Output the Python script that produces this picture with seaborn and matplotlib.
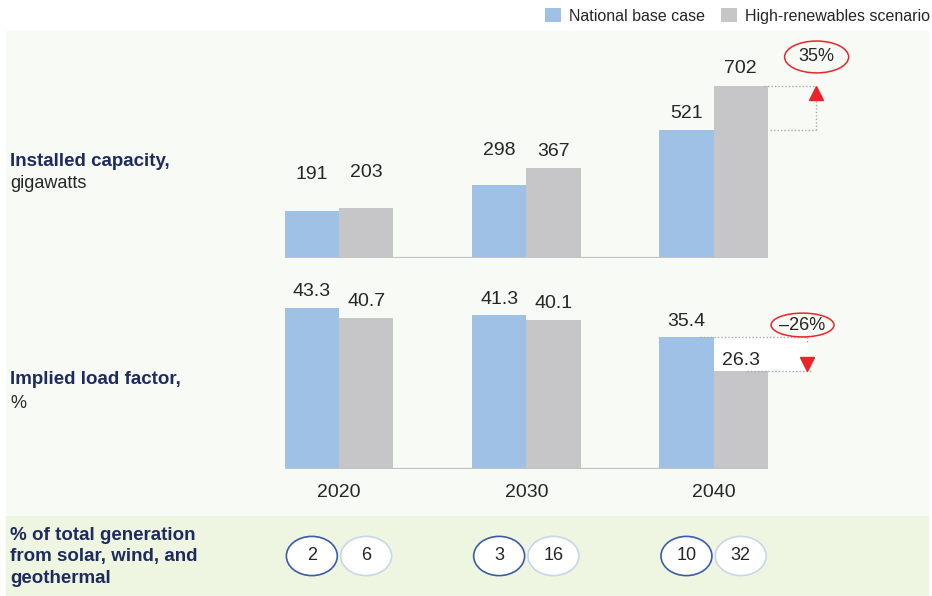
"""
plot.py - Capacidad instalada y factor de carga, caso base vs alto renovable.
"""
import numpy as np
import pandas as pd
import matplotlib
matplotlib.use("Agg")
import matplotlib.pyplot as plt
from matplotlib import transforms
from matplotlib.patches import Ellipse, Rectangle
import seaborn as sns

years = ["2020", "2030", "2040"]
scenarios = ["National base case", "High-renewables scenario"]
capacity_base = [191, 298, 521]
capacity_high = [203, 367, 702]
load_base = [43.3, 41.3, 35.4]
load_high = [40.7, 40.1, 26.3]
share_base = [2, 3, 10]
share_high = [6, 16, 32]
capacity_change = "35%"
load_change = "\u201326%"

BLUE = "#a0c1e6"
GREY = "#c6c6c8"
NAVY = "#1f2b5e"
TEXT = "#262626"
PANEL = "#f8faf5"
BAND = "#eef5e1"
RED = "#e8262a"

sns.set_style("white")
plt.rcParams["font.family"] = ["Liberation Sans", "DejaVu Sans"]

W, H = 932, 596
PX_UNIT = 187.3           # pixeles por categoria
GROUP0 = 339              # centro del grupo 2020 en pixeles


def fig_box(left, top, right, bottom):
    return [left / W, 1 - bottom / H, (right - left) / W, (bottom - top) / H]


def long_df(base, high):
    return pd.DataFrame({
        "year": years * 2,
        "scenario": [scenarios[0]] * 3 + [scenarios[1]] * 3,
        "value": list(base) + list(high),
    })


fig = plt.figure(figsize=(W / 100, H / 100), dpi=100)
fig.patch.set_facecolor("white")
fig.patches.append(Rectangle((6 / W, 1 - 516 / H), 922 / W, 485 / H,
                             transform=fig.transFigure, color=PANEL, zorder=-2))
fig.patches.append(Rectangle((6 / W, 0), 922 / W, 80 / H,
                             transform=fig.transFigure, color=BAND, zorder=-2))

x_left = GROUP0 - 0.5 * PX_UNIT
x_right = x_left + 3.5 * PX_UNIT
ax_top = fig.add_axes(fig_box(x_left, 30, x_right, 258))
ax_bot = fig.add_axes(fig_box(x_left, 280, x_right, 469))
ax_band = fig.add_axes(fig_box(x_left, 516, x_right, 596))

palette = {scenarios[0]: BLUE, scenarios[1]: GREY}

for ax, base, high in [(ax_top, capacity_base, capacity_high),
                       (ax_bot, load_base, load_high)]:
    sns.barplot(data=long_df(base, high), x="year", y="value", hue="scenario",
                hue_order=scenarios, order=years, palette=palette, width=0.58,
                saturation=1, linewidth=0, ax=ax, zorder=2)
    ax.set_facecolor("none")
    ax.set_xlim(-0.5, 3.0)
    sns.despine(ax=ax, left=True, bottom=True)
    ax.set_yticks([])
    ax.set_ylabel("")
    ax.set_xlabel("")
    ax.hlines(0, -0.29, 2.29, color="#c2c2c2", lw=1.6, zorder=3)

ax_top.set_ylim(0, 930)
ax_bot.set_ylim(0, 50.8)
ax_top.set_xticks([])
ax_bot.tick_params(axis="x", length=0, pad=11, labelsize=14, labelcolor=TEXT)

# etiquetas de valores
pads_top = [[37, 34, 17], [36, 17, 17]]
pads_bot = [[16, 16, 16], [16, 16, 11]]
for ax, pads, fmt in [(ax_top, pads_top, "{:.0f}"), (ax_bot, pads_bot, "{:.1f}")]:
    for cont, pad_row in zip(ax.containers, pads):
        for bar, pad in zip(cont, pad_row):
            x = bar.get_x() + bar.get_width() / 2
            y = bar.get_height()
            ax.annotate(fmt.format(y), (x, y), xytext=(0, pad),
                        textcoords="offset pixels", ha="center", va="center",
                        fontsize=14, color=TEXT, zorder=5)

# leyenda
sns.move_legend(ax_top, "upper right", bbox_to_anchor=(938 / W, 1.0),
                bbox_transform=fig.transFigure, ncol=2, frameon=False,
                title=None, fontsize=11.5, handlelength=1.0, handleheight=1.0,
                handletextpad=0.5, columnspacing=1.0, borderaxespad=0.1)
for t in ax_top.get_legend().get_texts():
    t.set_color(TEXT)
ax_bot.get_legend().remove()

# anotacion 35%
dots = dict(color="#a8a8a8", lw=1, ls=(0, (1, 1.5)), zorder=4, clip_on=False)
xa = 2.545
ax_top.plot([2.27, xa], [capacity_high[2]] * 2, **dots)
ax_top.plot([xa, xa], [capacity_base[2], capacity_high[2] - 55], **dots)
ax_top.plot([2.30, xa], [capacity_base[2]] * 2, **dots)
tr = transforms.offset_copy(ax_top.transData, fig=fig, y=-7, units="dots")
ax_top.plot(xa, capacity_high[2], marker="^", ms=10, color=RED, mec=RED,
            transform=tr, clip_on=False, zorder=5)
ax_top.add_patch(Ellipse((2.55, capacity_high[2] + 118), 0.342, 130, fill=False,
                         ec=RED, lw=1.1, clip_on=False, zorder=5))
ax_top.text(2.55, capacity_high[2] + 118, capacity_change, ha="center",
            va="center", fontsize=13, color=TEXT, zorder=6)

# anotacion -26%
xb = 2.497
ax_bot.add_patch(Rectangle((1.93, load_high[2]), xb - 1.93,
                           load_base[2] - load_high[2], color="white", zorder=1))
ax_bot.plot([1.93, xb], [load_base[2]] * 2, **dots)
ax_bot.plot([xb, xb], [load_base[2], load_base[2] - 1.5], **dots)
ax_bot.plot([2.18, 2.53], [load_high[2]] * 2, **dots)
tr = transforms.offset_copy(ax_bot.transData, fig=fig, y=7, units="dots")
ax_bot.plot(xb, load_high[2], marker="v", ms=10, color=RED, mec=RED,
            transform=tr, clip_on=False, zorder=5)
ax_bot.add_patch(Ellipse((2.475, 38.7), 0.336, 6.4, fill=False, ec=RED,
                         lw=1.1, clip_on=False, zorder=5))
ax_bot.text(2.475, 38.7, load_change, ha="center", va="center", fontsize=13,
            color=TEXT, zorder=6)

# franja inferior con circulos
ax_band.set_xlim(-0.5, 3.0)
ax_band.set_ylim(0, 1)
ax_band.axis("off")
for i in range(len(years)):
    for dx, val, ec, lw in [(-0.145, share_base[i], "#3a5ca8", 1.2),
                            (0.145, share_high[i], "#c9d6ea", 1.2)]:
        ax_band.add_patch(Ellipse((i + dx, 0.5), 0.272, 0.49, fc="white",
                                  ec=ec, lw=lw, zorder=3))
        ax_band.text(i + dx, 0.5, str(val), ha="center", va="center",
                     fontsize=13, color=TEXT, zorder=4)

# etiquetas izquierdas
fig.text(10 / W, 1 - 161 / H, "Installed capacity,", fontsize=13.5,
         fontweight="bold", color=NAVY, va="center")
fig.text(10 / W, 1 - 184 / H, "gigawatts", fontsize=13, color=TEXT, va="center")
fig.text(10 / W, 1 - 380 / H, "Implied load factor,", fontsize=13.5,
         fontweight="bold", color=NAVY, va="center")
fig.text(10 / W, 1 - 403 / H, "%", fontsize=13, color=TEXT, va="center")
fig.text(10 / W, 1 - 557 / H,
         "% of total generation\nfrom solar, wind, and\ngeothermal",
         fontsize=13.5, fontweight="bold", color=NAVY, va="center",
         linespacing=1.33)

fig.savefig("out.png", dpi=100)
